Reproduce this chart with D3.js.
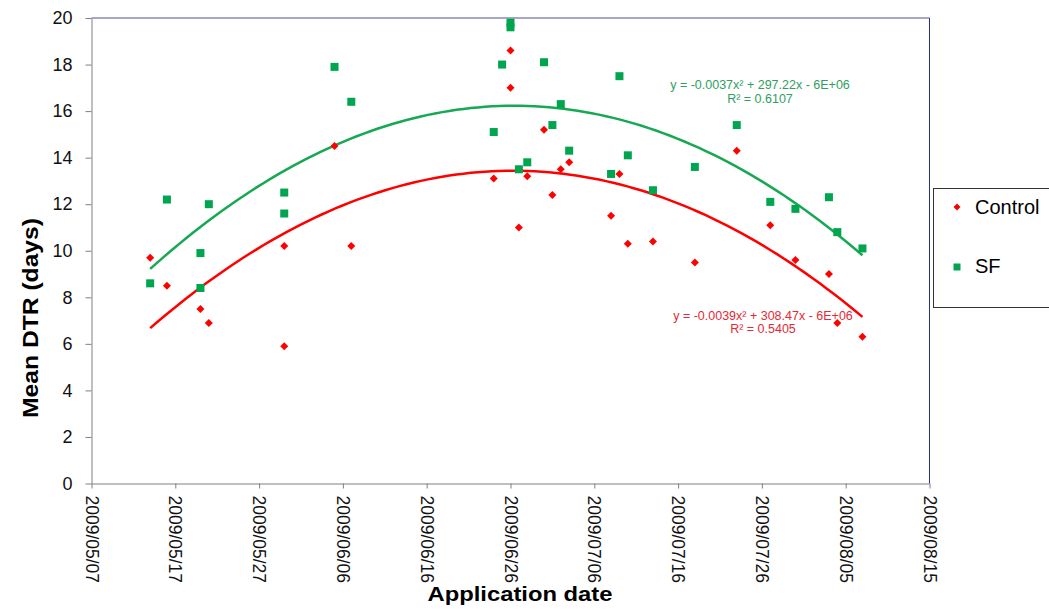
<!DOCTYPE html>
<html>
<head>
<meta charset="utf-8">
<script src="https://cdn.jsdelivr.net/npm/d3@7"></script>
<style>
  body { margin: 0; background: #fff; }
  svg { display: block; font-family: "Liberation Sans", Arial, sans-serif; }
  .eq { font-family: "Liberation Sans Narrow", "Arial Narrow", "Liberation Sans", sans-serif; font-size: 12.5px; }
</style>
</head>
<body>
<svg id="chart" width="1049" height="610"></svg>
<script>
// Control (red diamonds)
const controlDates = ["2009/05/14","2009/05/16","2009/05/20","2009/05/21","2009/05/30","2009/05/30",
  "2009/06/05","2009/06/07","2009/06/24","2009/06/26","2009/06/26","2009/06/27","2009/06/28",
  "2009/06/30","2009/07/01","2009/07/02","2009/07/03","2009/07/08","2009/07/09","2009/07/10",
  "2009/07/13","2009/07/18","2009/07/23","2009/07/27","2009/07/30","2009/08/03","2009/08/04","2009/08/07"];
const controlValues = [9.7, 8.5, 7.5, 6.9, 10.2, 5.9,
  14.5, 10.2, 13.1, 18.6, 17.0, 11.0, 13.2,
  15.2, 12.4, 13.5, 13.8, 11.5, 13.3, 10.3,
  10.4, 9.5, 14.3, 11.1, 9.6, 9.0, 6.9, 6.3];

// SF (green squares)
const sfDates = ["2009/05/14","2009/05/16","2009/05/20","2009/05/20","2009/05/21","2009/05/30","2009/05/30",
  "2009/06/05","2009/06/07","2009/06/24","2009/06/25","2009/06/26","2009/06/26","2009/06/27","2009/06/28",
  "2009/06/30","2009/07/01","2009/07/02","2009/07/03","2009/07/08","2009/07/09","2009/07/10",
  "2009/07/13","2009/07/18","2009/07/23","2009/07/27","2009/07/30","2009/08/03","2009/08/04","2009/08/07"];
const sfValues = [8.6, 12.2, 9.9, 8.4, 12.0, 12.5, 11.6,
  17.9, 16.4, 15.1, 18.0, 19.8, 19.6, 13.5, 13.8,
  18.1, 15.4, 16.3, 14.3, 13.3, 17.5, 14.1,
  12.6, 13.6, 15.4, 12.1, 11.8, 12.3, 10.8, 10.1];

const xTickLabels = ["2009/05/07","2009/05/17","2009/05/27","2009/06/06","2009/06/16","2009/06/26",
  "2009/07/06","2009/07/16","2009/07/26","2009/08/05","2009/08/15"];
const yTicks = [0, 2, 4, 6, 8, 10, 12, 14, 16, 18, 20];

const seriesNames = ["Control", "SF"];
const eqControl = ["y = -0.0039x\u00b2  + 308.47x  - 6E+06", "R\u00b2 = 0.5405"];
const eqSF = ["y = -0.0037x\u00b2  + 297.22x  - 6E+06", "R\u00b2 = 0.6107"];

const RED = "#ff0000", GREEN = "#00a550";

const parse = d3.utcParse("%Y/%m/%d");
const fmt = d3.utcFormat("%Y/%m/%d");

const svg = d3.select("#chart");
const plotLeft = 91.5, plotRight = 929.5, plotTop = 18, plotBottom = 483.5;

const x = d3.scaleUtc()
  .domain([parse(xTickLabels[0]), parse(xTickLabels[xTickLabels.length - 1])])
  .range([plotLeft, plotRight]);
const y = d3.scaleLinear().domain([0, 20]).range([plotBottom, plotTop]);

// frame: top and right borders
svg.append("line").attr("x1", plotLeft).attr("x2", plotRight).attr("y1", plotTop).attr("y2", plotTop)
  .attr("stroke", "#8a8ab4").attr("stroke-width", 1.5);
svg.append("line").attr("x1", plotRight).attr("x2", plotRight).attr("y1", plotTop).attr("y2", plotBottom)
  .attr("stroke", "#2e2e86").attr("stroke-width", 1);

// Axes
const yAxis = svg.append("g")
  .attr("transform", "translate(" + plotLeft + ",0)")
  .call(d3.axisLeft(y).tickValues(yTicks).tickSize(6).tickPadding(13).tickSizeOuter(0));
yAxis.selectAll("text").style("font-size", "18px").attr("fill", "#111");

const xAxis = svg.append("g")
  .attr("transform", "translate(0," + plotBottom + ")")
  .call(d3.axisBottom(x).tickValues(xTickLabels.map(parse)).tickFormat(fmt).tickSize(5).tickSizeOuter(0));
xAxis.selectAll("text")
  .style("font-size", "17.5px").attr("fill", "#111")
  .attr("text-anchor", "start")
  .attr("transform", "rotate(90)")
  .attr("x", 12).attr("y", 0).attr("dy", "0.36em");
svg.selectAll(".domain, .tick line").attr("stroke", "#808080");

// quadratic least-squares trend on day offsets
function quadFit(dates, vals) {
  const t0 = dates[0];
  const xs = dates.map(d => (d - t0) / 864e5);
  let S = [0, 0, 0, 0, 0], T = [0, 0, 0];
  xs.forEach((xv, i) => {
    for (let k = 0; k < 5; k++) S[k] += Math.pow(xv, k);
    for (let k = 0; k < 3; k++) T[k] += vals[i] * Math.pow(xv, k);
  });
  const M = [[S[0], S[1], S[2], T[0]], [S[1], S[2], S[3], T[1]], [S[2], S[3], S[4], T[2]]];
  for (let i = 0; i < 3; i++) {
    for (let j = i + 1; j < 3; j++) {
      const f = M[j][i] / M[i][i];
      for (let k = i; k < 4; k++) M[j][k] -= f * M[i][k];
    }
  }
  const c = [0, 0, 0];
  for (let i = 2; i >= 0; i--) {
    let s = M[i][3];
    for (let k = i + 1; k < 3; k++) s -= M[i][k] * c[k];
    c[i] = s / M[i][i];
  }
  const lo = d3.min(dates), hi = d3.max(dates);
  return d3.range(0, 101).map(i => {
    const d = new Date(+lo + (hi - lo) * i / 100);
    const dx = (d - t0) / 864e5;
    return [d, c[0] + c[1] * dx + c[2] * dx * dx];
  });
}

const line = d3.line().x(d => x(d[0])).y(d => y(d[1]));

const control = controlDates.map((d, i) => ({ date: parse(d), v: controlValues[i] }));
const sf = sfDates.map((d, i) => ({ date: parse(d), v: sfValues[i] }));

svg.append("path")
  .attr("d", line(quadFit(control.map(d => d.date), controlValues)))
  .attr("fill", "none").attr("stroke", RED).attr("stroke-width", 2.5);
svg.append("path")
  .attr("d", line(quadFit(sf.map(d => d.date), sfValues)))
  .attr("fill", "none").attr("stroke", "#16a853").attr("stroke-width", 2.5);

const diamond = r => "M0," + (-r) + "L" + r + ",0L0," + r + "L" + (-r) + ",0Z";

// SF squares drawn first, control diamonds on top
svg.append("g").selectAll("rect")
  .data(sf).join("rect")
  .attr("x", d => x(d.date) - 4).attr("y", d => y(d.v) - 4)
  .attr("width", 8).attr("height", 8)
  .attr("fill", GREEN);

svg.append("g").selectAll("path")
  .data(control).join("path")
  .attr("transform", d => "translate(" + x(d.date) + "," + y(d.v) + ")")
  .attr("d", diamond(4))
  .attr("fill", RED);

// Trend equations
const eqG = svg.append("text").attr("class", "eq").attr("fill", "#2f9e62").attr("text-anchor", "middle");
eqG.append("tspan").attr("x", 760).attr("y", 89).text(eqSF[0]);
eqG.append("tspan").attr("x", 760).attr("y", 103).text(eqSF[1]);
const eqR = svg.append("text").attr("class", "eq").attr("fill", "#e42a36").attr("text-anchor", "middle");
eqR.append("tspan").attr("x", 763).attr("y", 320).text(eqControl[0]);
eqR.append("tspan").attr("x", 763).attr("y", 333).text(eqControl[1]);

// Axis titles
svg.append("text")
  .attr("transform", "translate(38,318) rotate(-90)")
  .attr("text-anchor", "middle")
  .attr("textLength", 200).attr("lengthAdjust", "spacingAndGlyphs")
  .style("font-size", "22px").style("font-weight", "bold")
  .text("Mean DTR (days)");
svg.append("text")
  .attr("x", 520).attr("y", 601)
  .attr("text-anchor", "middle")
  .attr("textLength", 185).attr("lengthAdjust", "spacingAndGlyphs")
  .style("font-size", "21px").style("font-weight", "bold")
  .text("Application date");

// Legend
const lg = svg.append("g");
lg.append("rect").attr("x", 933.5).attr("y", 188.5).attr("width", 130).attr("height", 119)
  .attr("fill", "#fff").attr("stroke", "#333").attr("stroke-width", 1);
lg.append("path").attr("transform", "translate(957,207)").attr("d", diamond(3.5)).attr("fill", RED);
lg.append("rect").attr("x", 953.5).attr("y", 263.5).attr("width", 7).attr("height", 7).attr("fill", GREEN);
lg.append("text").attr("x", 975).attr("y", 214).style("font-size", "20px").text(seriesNames[0]);
lg.append("text").attr("x", 975).attr("y", 273).style("font-size", "20px").text(seriesNames[1]);
</script>
</body>
</html>
